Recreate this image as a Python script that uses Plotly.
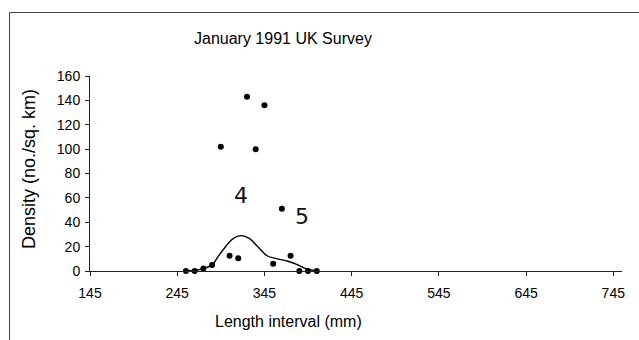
import plotly.graph_objects as go

# Survey densities by 10 mm length interval
length_mm = [255, 265, 275, 285, 295, 305, 315, 325, 335, 345, 355, 365, 375, 385, 395, 405]
density = [0, 0, 2, 5, 102, 12.5, 10.5, 143, 100, 136, 6, 51, 12.5, 0, 0, 0]

# Hand-drawn smoothed distribution curve
curve_x = [255, 265, 275, 285, 292, 300, 308, 318, 328, 338, 348, 360, 372, 382, 392, 402]
curve_y = [0, 0.5, 2, 5, 12, 19.5, 26, 29, 26.5, 19.5, 12.5, 10, 8, 5.5, 2, 0.5]

# Age-class marks written next to the peaks
age_labels = ["4", "5"]
age_x = [318, 388]
age_y = [62, 45]

x_ticks = [145, 245, 345, 445, 545, 645, 745]
y_ticks = [0, 20, 40, 60, 80, 100, 120, 140, 160]

W, H = 639, 340
L, R, T, B = 90, 17, 76, 69
pw, ph = W - L - R, H - T - B


def px_x(p):
    return (p - L) / pw


def px_y(p):
    return (H - B - p) / ph


fig = go.Figure()
fig.add_trace(go.Scatter(
    x=curve_x, y=curve_y, mode="lines",
    line=dict(color="black", width=1.4, shape="spline", smoothing=1.0),
    hoverinfo="skip", showlegend=False, cliponaxis=False,
))
fig.add_trace(go.Scatter(
    x=length_mm, y=density, mode="markers",
    marker=dict(color="black", size=6),
    showlegend=False, cliponaxis=False,
))

for t, ax_, ay_ in zip(age_labels, age_x, age_y):
    fig.add_annotation(x=ax_, y=ay_, text=t, showarrow=False,
                       xanchor="center", yanchor="middle",
                       font=dict(family="DejaVu Sans", size=22, color="#111"))

font_main = "Liberation Sans, Arial, sans-serif"
centered = dict(xref="paper", yref="paper", showarrow=False,
                xanchor="center", yanchor="middle")
fig.add_annotation(x=px_x(283), y=px_y(38), text="January 1991 UK Survey",
                   font=dict(family=font_main, size=16, color="black"), **centered)
fig.add_annotation(x=px_x(288), y=px_y(321), text="Length interval (mm)",
                   font=dict(family=font_main, size=16, color="black"), **centered)
fig.add_annotation(x=px_x(29), y=px_y(169), text="Density (no./sq. km)", textangle=-90,
                   font=dict(family=font_main, size=18, color="black"), **centered)

# outer frame (left and top edges)
frame = dict(color="#444", width=1)
fig.add_shape(type="line", xref="paper", yref="paper",
              x0=px_x(9.5), x1=px_x(W), y0=px_y(12.5), y1=px_y(12.5), line=frame)
fig.add_shape(type="line", xref="paper", yref="paper",
              x0=px_x(9.5), x1=px_x(9.5), y0=px_y(12.5), y1=px_y(H), line=frame)

axis_common = dict(showgrid=False, zeroline=False, showline=True,
                   linecolor="#222", linewidth=1, ticks="outside", ticklen=4,
                   tickcolor="#222", tickfont=dict(family=font_main, size=14, color="black"))
fig.update_xaxes(range=[145, 755], tickvals=x_ticks, ticktext=[str(v) for v in x_ticks],
                 ticklabelstandoff=5, **axis_common)
fig.update_yaxes(range=[0, 160], tickvals=y_ticks, ticklabelstandoff=2, **axis_common)

fig.update_layout(width=W, height=H, margin=dict(l=L, r=R, t=T, b=B),
                  plot_bgcolor="white", paper_bgcolor="white")
fig.write_html("out.html")
